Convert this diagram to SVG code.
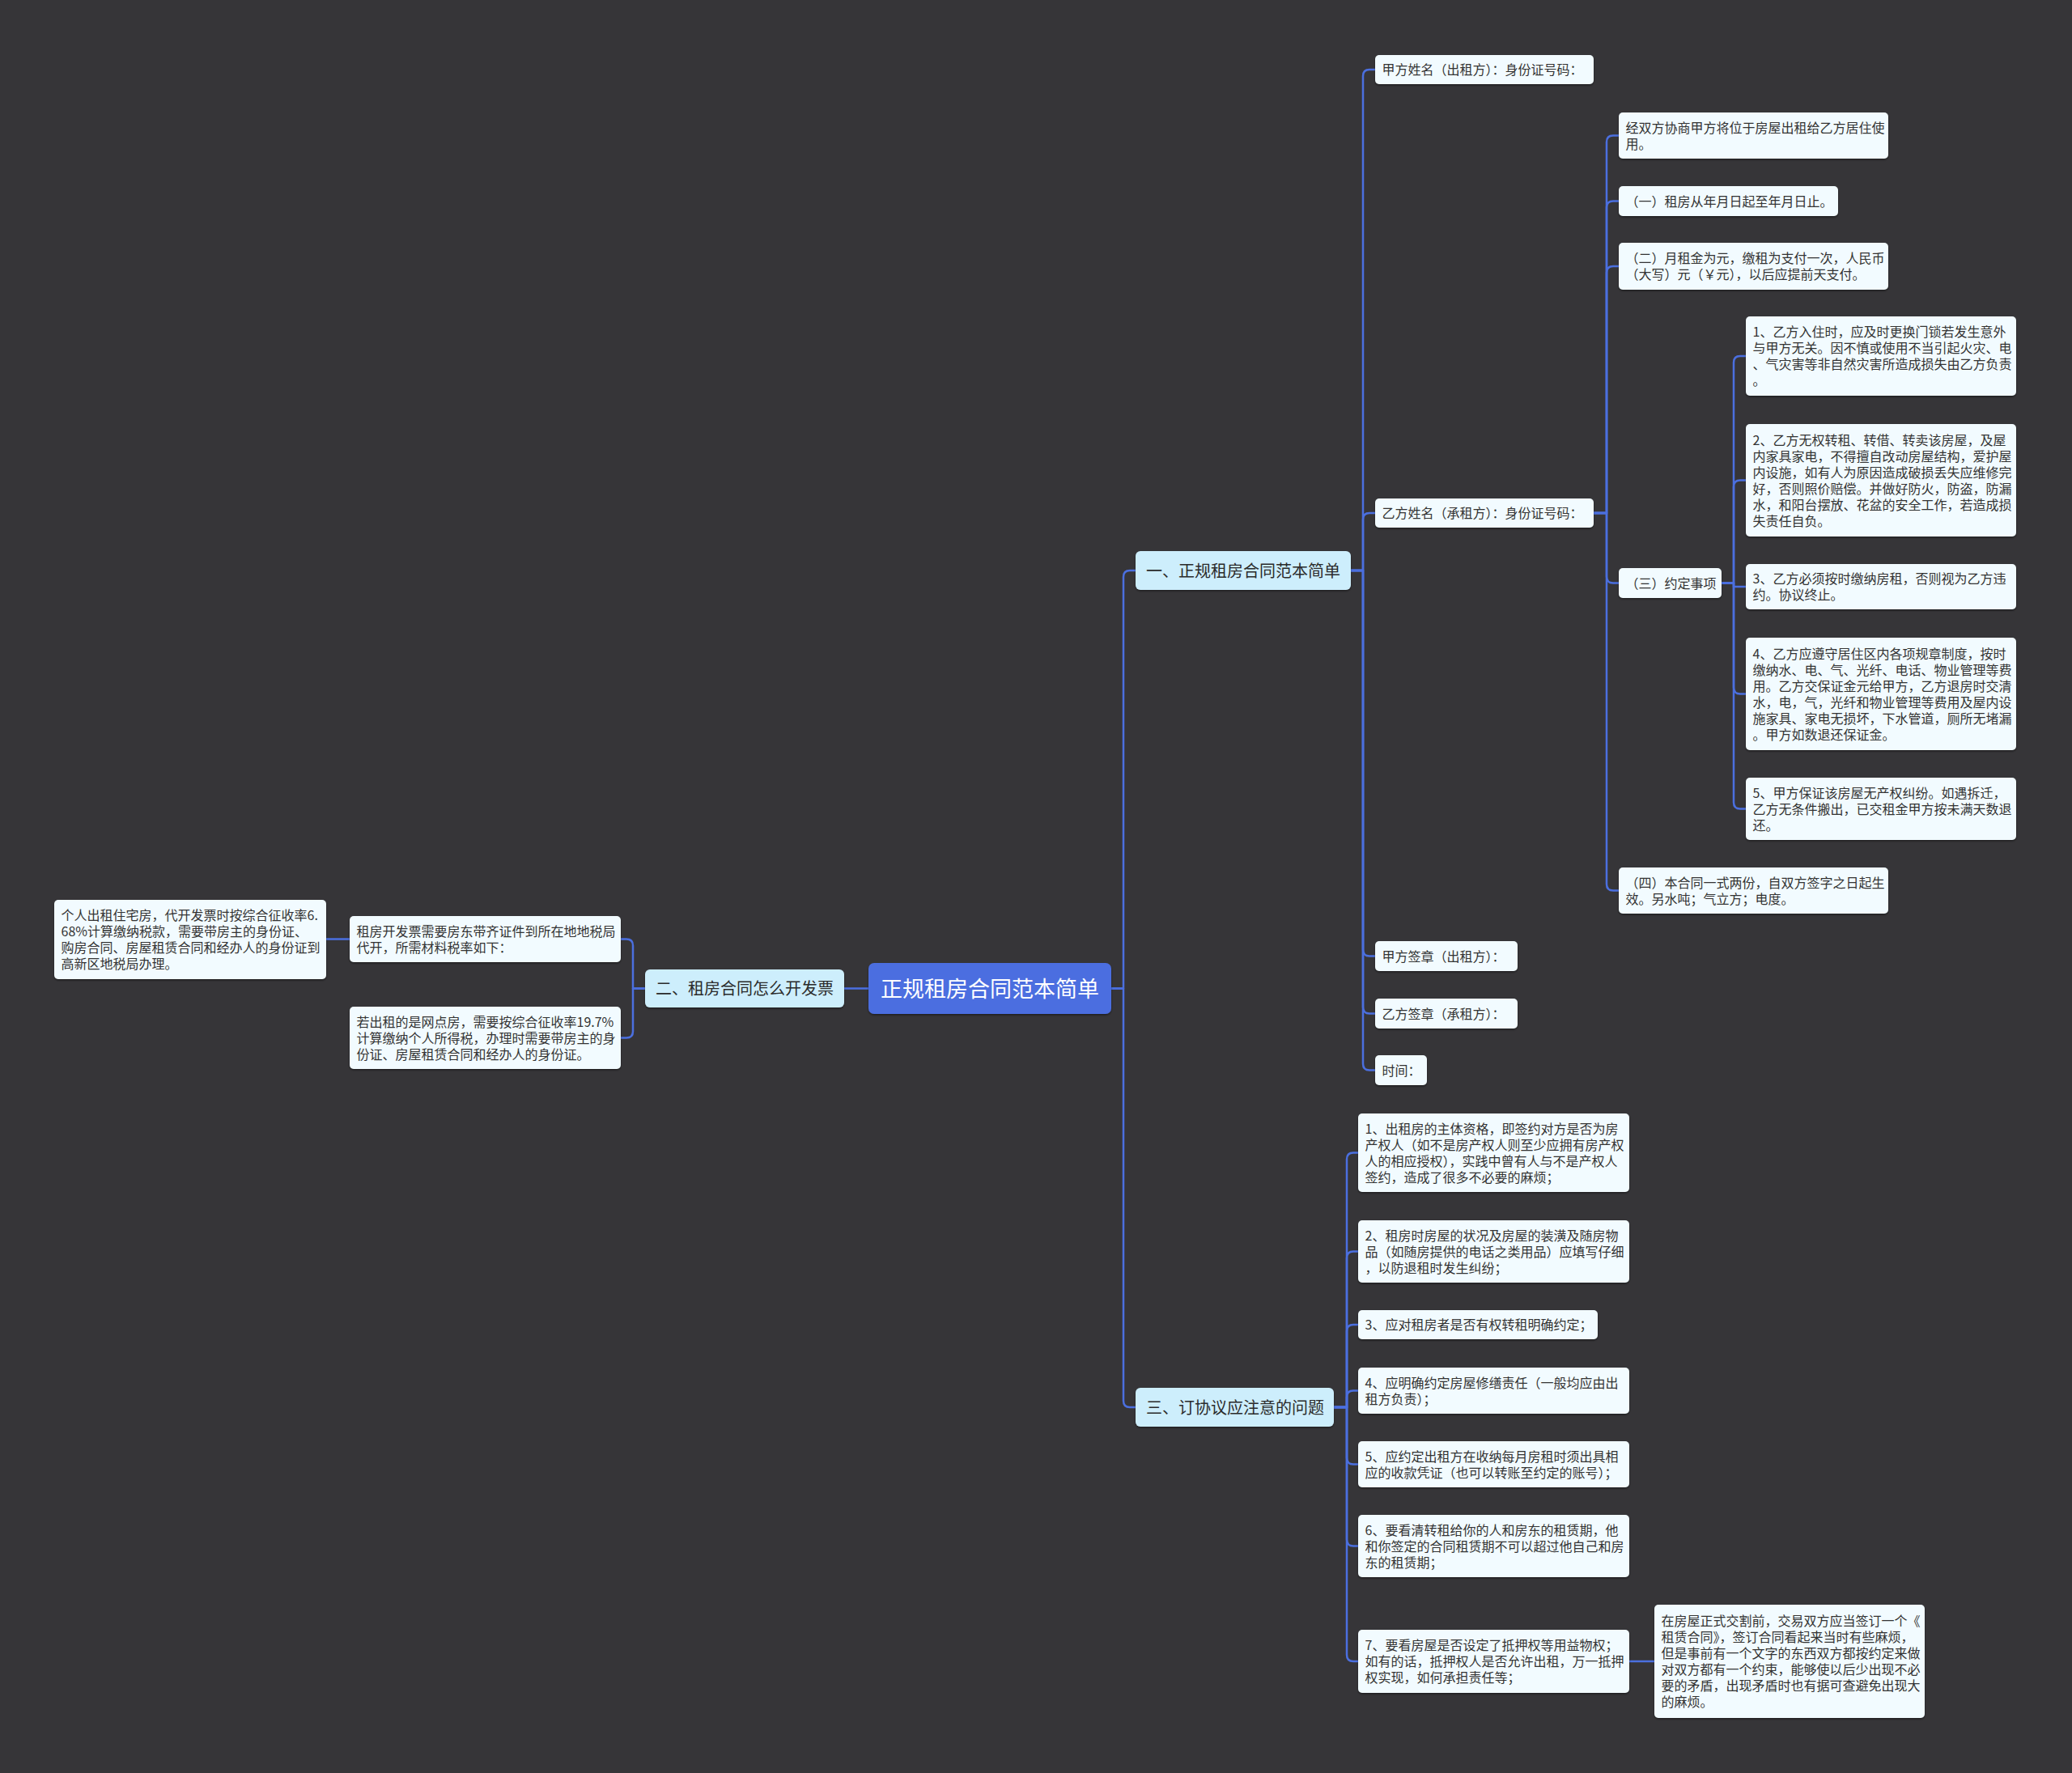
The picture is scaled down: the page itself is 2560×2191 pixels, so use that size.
<svg xmlns="http://www.w3.org/2000/svg" width="2560" height="2191" viewBox="0 0 2560 2191">
<defs>
<filter id="sh" x="-5%" y="-10%" width="110%" height="130%">
<feDropShadow dx="0" dy="1.5" stdDeviation="1.2" flood-color="#000" flood-opacity="0.45"/>
</filter>
<style>
text{font-family:"Noto Sans CJK SC","Noto Sans",sans-serif;}
.leaf rect{fill:#f2fbff;filter:url(#sh);}
.leaf text{font-size:16px;fill:#333333;}
.branch rect{fill:#cdeefc;filter:url(#sh);}
.branch text{font-size:20px;fill:#2b2b2b;}
.root rect{fill:#4b6ee0;filter:url(#sh);}
.root text{font-size:27px;fill:#ffffff;}
.conn path{fill:none;stroke:#4b6fdf;stroke-width:2.5;stroke-linejoin:round;stroke-linecap:round;}
</style>
</defs>
<rect x="0" y="0" width="2560" height="2191" fill="#363538"/>

<g class="conn" id="connectors">
<path d="M1373,1221.5 H1388 V713 Q1388,705 1396,705 H1403"/>
<path d="M1373,1221.5 H1388 V1731 Q1388,1739 1396,1739 H1403"/>
<path d="M1073,1221.5 H1043"/>
<path d="M797,1221.5 H782 V1168.5 Q782,1160.5 774,1160.5 H767"/>
<path d="M797,1221.5 H782 V1274.5 Q782,1282.5 774,1282.5 H767"/>
<path d="M432,1160.5 H403"/>
<path d="M1669,705 H1684 V94 Q1684,86 1692,86 H1699"/>
<path d="M1669,705 H1684 V642 Q1684,634 1692,634 H1699"/>
<path d="M1669,705 H1684 V1173.5 Q1684,1181.5 1692,1181.5 H1699"/>
<path d="M1669,705 H1684 V1244.5 Q1684,1252.5 1692,1252.5 H1699"/>
<path d="M1669,705 H1684 V1314.5 Q1684,1322.5 1692,1322.5 H1699"/>
<path d="M1969,634 H1985 V175.5 Q1985,167.5 1993,167.5 H2000"/>
<path d="M1969,634 H1985 V256.5 Q1985,248.5 1993,248.5 H2000"/>
<path d="M1969,634 H1985 V337 Q1985,329 1993,329 H2000"/>
<path d="M1969,634 H1985 V712.5 Q1985,720.5 1993,720.5 H2000"/>
<path d="M1969,634 H1985 V1092.5 Q1985,1100.5 1993,1100.5 H2000"/>
<path d="M2127,720.5 H2142 V448 Q2142,440 2150,440 H2157"/>
<path d="M2127,720.5 H2142 V601.5 Q2142,593.5 2150,593.5 H2157"/>
<path d="M2127,720.5 H2142 V725 H2157"/>
<path d="M2127,720.5 H2142 V849.5 Q2142,857.5 2150,857.5 H2157"/>
<path d="M2127,720.5 H2142 V991.5 Q2142,999.5 2150,999.5 H2157"/>
<path d="M1648,1739 H1664 V1432.5 Q1664,1424.5 1672,1424.5 H1678"/>
<path d="M1648,1739 H1664 V1554.5 Q1664,1546.5 1672,1546.5 H1678"/>
<path d="M1648,1739 H1664 V1645 Q1664,1637 1672,1637 H1678"/>
<path d="M1648,1739 H1664 V1726.5 Q1664,1718.5 1672,1718.5 H1678"/>
<path d="M1648,1739 H1664 V1801.5 Q1664,1809.5 1672,1809.5 H1678"/>
<path d="M1648,1739 H1664 V1902.5 Q1664,1910.5 1672,1910.5 H1678"/>
<path d="M1648,1739 H1664 V2045 Q1664,2053 1672,2053 H1678"/>
<path d="M2013,2053 H2044"/>
</g>

<g class="root" id="root">
<rect x="1073" y="1190" width="300" height="63" rx="7"/>
<text x="1223" y="1231.5" text-anchor="middle">正规租房合同范本简单</text>
</g>

<g class="branch" id="b1">
<rect x="1403" y="681" width="266" height="48" rx="6"/>
<text x="1416" y="712.5">一、正规租房合同范本简单</text>
</g>
<g class="branch" id="b2">
<rect x="797" y="1198" width="246" height="47" rx="6"/>
<text x="810" y="1229">二、租房合同怎么开发票</text>
</g>
<g class="branch" id="b3">
<rect x="1403" y="1715" width="245" height="48" rx="6"/>
<text x="1416" y="1746.5">三、订协议应注意的问题</text>
</g>

<g class="leaf" id="a1">
<rect x="1699" y="68" width="270" height="36" rx="5"/>
<text x="1707.5" y="92">甲方姓名（出租方）：身份证号码：</text>
</g>
<g class="leaf" id="a2">
<rect x="1699" y="616" width="270" height="36" rx="5"/>
<text x="1707.5" y="640">乙方姓名（承租方）：身份证号码：</text>
</g>
<g class="leaf" id="a3">
<rect x="1699" y="1163" width="176" height="37" rx="5"/>
<text x="1707.5" y="1187.5">甲方签章（出租方）：</text>
</g>
<g class="leaf" id="a4">
<rect x="1699" y="1234" width="176" height="37" rx="5"/>
<text x="1707.5" y="1258.5">乙方签章（承租方）：</text>
</g>
<g class="leaf" id="a5">
<rect x="1699" y="1304" width="64" height="37" rx="5"/>
<text x="1707.5" y="1328.5">时间：</text>
</g>

<g class="leaf" id="b1n">
<rect x="2000" y="139" width="333" height="57" rx="5"/>
<text x="2008.5" y="163.5">经双方协商甲方将位于房屋出租给乙方居住使</text>
<text x="2008.5" y="183.5">用。</text>
</g>
<g class="leaf" id="b2n">
<rect x="2000" y="230" width="271" height="37" rx="5"/>
<text x="2008.5" y="254.5">（一）租房从年月日起至年月日止。</text>
</g>
<g class="leaf" id="b3n">
<rect x="2000" y="300" width="333" height="58" rx="5"/>
<text x="2008.5" y="325">（二）月租金为元，缴租为支付一次，人民币</text>
<text x="2008.5" y="345">（大写）元（￥元），以后应提前天支付。</text>
</g>
<g class="leaf" id="b4n">
<rect x="2000" y="702" width="127" height="37" rx="5"/>
<text x="2008.5" y="726.5">（三）约定事项</text>
</g>
<g class="leaf" id="b5n">
<rect x="2000" y="1072" width="333" height="57" rx="5"/>
<text x="2008.5" y="1096.5">（四）本合同一式两份，自双方签字之日起生</text>
<text x="2008.5" y="1116.5">效。另水吨；气立方；电度。</text>
</g>

<g class="leaf" id="c1">
<rect x="2157" y="391" width="334" height="98" rx="5"/>
<text x="2165.5" y="416">1、乙方入住时，应及时更换门锁若发生意外</text>
<text x="2165.5" y="436">与甲方无关。因不慎或使用不当引起火灾、电</text>
<text x="2165.5" y="456">、气灾害等非自然灾害所造成损失由乙方负责</text>
<text x="2165.5" y="476">。</text>
</g>
<g class="leaf" id="c2">
<rect x="2157" y="524" width="334" height="139" rx="5"/>
<text x="2165.5" y="549.5">2、乙方无权转租、转借、转卖该房屋，及屋</text>
<text x="2165.5" y="569.5">内家具家电，不得擅自改动房屋结构，爱护屋</text>
<text x="2165.5" y="589.5">内设施，如有人为原因造成破损丢失应维修完</text>
<text x="2165.5" y="609.5">好，否则照价赔偿。并做好防火，防盗，防漏</text>
<text x="2165.5" y="629.5">水，和阳台摆放、花盆的安全工作，若造成损</text>
<text x="2165.5" y="649.5">失责任自负。</text>
</g>
<g class="leaf" id="c3">
<rect x="2157" y="697" width="334" height="56" rx="5"/>
<text x="2165.5" y="721">3、乙方必须按时缴纳房租，否则视为乙方违</text>
<text x="2165.5" y="741">约。协议终止。</text>
</g>
<g class="leaf" id="c4">
<rect x="2157" y="788" width="334" height="139" rx="5"/>
<text x="2165.5" y="813.5">4、乙方应遵守居住区内各项规章制度，按时</text>
<text x="2165.5" y="833.5">缴纳水、电、气、光纤、电话、物业管理等费</text>
<text x="2165.5" y="853.5">用。乙方交保证金元给甲方，乙方退房时交清</text>
<text x="2165.5" y="873.5">水，电，气，光纤和物业管理等费用及屋内设</text>
<text x="2165.5" y="893.5">施家具、家电无损坏，下水管道，厕所无堵漏</text>
<text x="2165.5" y="913.5">。甲方如数退还保证金。</text>
</g>
<g class="leaf" id="c5">
<rect x="2157" y="961" width="334" height="77" rx="5"/>
<text x="2165.5" y="985.5">5、甲方保证该房屋无产权纠纷。如遇拆迁，</text>
<text x="2165.5" y="1005.5">乙方无条件搬出，已交租金甲方按未满天数退</text>
<text x="2165.5" y="1025.5">还。</text>
</g>

<g class="leaf" id="d1">
<rect x="432" y="1132" width="335" height="57" rx="5"/>
<text x="440.5" y="1156.5">租房开发票需要房东带齐证件到所在地地税局</text>
<text x="440.5" y="1176.5">代开，所需材料税率如下：</text>
</g>
<g class="leaf" id="d2">
<rect x="432" y="1244" width="335" height="77" rx="5"/>
<text x="440.5" y="1268.5">若出租的是网点房，需要按综合征收率19.7%</text>
<text x="440.5" y="1288.5">计算缴纳个人所得税，办理时需要带房主的身</text>
<text x="440.5" y="1308.5">份证、房屋租赁合同和经办人的身份证。</text>
</g>
<g class="leaf" id="d3">
<rect x="67" y="1112" width="336" height="98" rx="5"/>
<text x="75.5" y="1137">个人出租住宅房，代开发票时按综合征收率6.</text>
<text x="75.5" y="1157">68%计算缴纳税款，需要带房主的身份证、</text>
<text x="75.5" y="1177">购房合同、房屋租赁合同和经办人的身份证到</text>
<text x="75.5" y="1197">高新区地税局办理。</text>
</g>

<g class="leaf" id="e1">
<rect x="1678" y="1376" width="335" height="97" rx="5"/>
<text x="1686.5" y="1400.5">1、出租房的主体资格，即签约对方是否为房</text>
<text x="1686.5" y="1420.5">产权人（如不是房产权人则至少应拥有房产权</text>
<text x="1686.5" y="1440.5">人的相应授权），实践中曾有人与不是产权人</text>
<text x="1686.5" y="1460.5">签约，造成了很多不必要的麻烦；</text>
</g>
<g class="leaf" id="e2">
<rect x="1678" y="1508" width="335" height="77" rx="5"/>
<text x="1686.5" y="1532.5">2、租房时房屋的状况及房屋的装潢及随房物</text>
<text x="1686.5" y="1552.5">品（如随房提供的电话之类用品）应填写仔细</text>
<text x="1686.5" y="1572.5">，以防退租时发生纠纷；</text>
</g>
<g class="leaf" id="e3">
<rect x="1678" y="1619" width="296" height="36" rx="5"/>
<text x="1686.5" y="1643">3、应对租房者是否有权转租明确约定；</text>
</g>
<g class="leaf" id="e4">
<rect x="1678" y="1690" width="335" height="57" rx="5"/>
<text x="1686.5" y="1714.5">4、应明确约定房屋修缮责任（一般均应由出</text>
<text x="1686.5" y="1734.5">租方负责）；</text>
</g>
<g class="leaf" id="e5">
<rect x="1678" y="1781" width="335" height="57" rx="5"/>
<text x="1686.5" y="1805.5">5、应约定出租方在收纳每月房租时须出具相</text>
<text x="1686.5" y="1825.5">应的收款凭证（也可以转账至约定的账号）；</text>
</g>
<g class="leaf" id="e6">
<rect x="1678" y="1872" width="335" height="77" rx="5"/>
<text x="1686.5" y="1896.5">6、要看清转租给你的人和房东的租赁期，他</text>
<text x="1686.5" y="1916.5">和你签定的合同租赁期不可以超过他自己和房</text>
<text x="1686.5" y="1936.5">东的租赁期；</text>
</g>
<g class="leaf" id="e7">
<rect x="1678" y="2014" width="335" height="78" rx="5"/>
<text x="1686.5" y="2039">7、要看房屋是否设定了抵押权等用益物权；</text>
<text x="1686.5" y="2059">如有的话，抵押权人是否允许出租，万一抵押</text>
<text x="1686.5" y="2079">权实现，如何承担责任等；</text>
</g>
<g class="leaf" id="f1">
<rect x="2044" y="1983" width="334" height="140" rx="5"/>
<text x="2052.5" y="2009">在房屋正式交割前，交易双方应当签订一个《</text>
<text x="2052.5" y="2029">租赁合同》，签订合同看起来当时有些麻烦，</text>
<text x="2052.5" y="2049">但是事前有一个文字的东西双方都按约定来做</text>
<text x="2052.5" y="2069">对双方都有一个约束，能够使以后少出现不必</text>
<text x="2052.5" y="2089">要的矛盾，出现矛盾时也有据可查避免出现大</text>
<text x="2052.5" y="2109">的麻烦。</text>
</g>
</svg>
